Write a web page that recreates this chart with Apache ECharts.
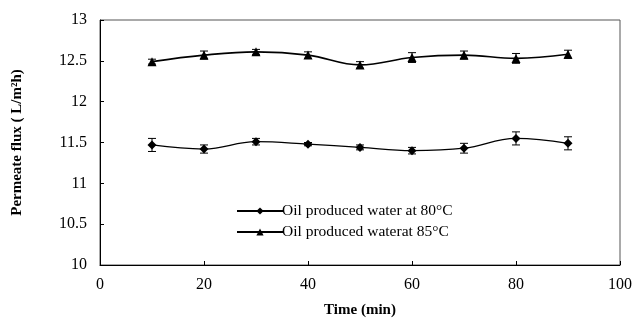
<!DOCTYPE html>
<html><head><meta charset="utf-8">
<script src="https://cdn.jsdelivr.net/npm/echarts@6/dist/echarts.min.js"></script>
<style>html,body{margin:0;padding:0;background:#fff}#c{width:638px;height:325px}</style>
</head><body><div id="c"></div>
<script>
var times = [10, 20, 30, 40, 50, 60, 70, 80, 90];
var flux80 = [11.47, 11.42, 11.51, 11.48, 11.44, 11.40, 11.43, 11.55, 11.49];
var err80 = [0.08, 0.05, 0.04, 0.02, 0.03, 0.04, 0.06, 0.08, 0.08];
var flux85 = [12.49, 12.57, 12.61, 12.57, 12.45, 12.54, 12.57, 12.53, 12.58];
var err85 = [0.03, 0.05, 0.03, 0.04, 0.04, 0.06, 0.05, 0.06, 0.05];
var name80 = 'Oil produced water at 80°C';
var name85 = 'Oil produced waterat 85°C';

function pairs(v){ return times.map(function(t,i){return [t, v[i]];}); }
function errData(v,e){ return times.map(function(t,i){return [t, v[i]-e[i], v[i]+e[i]];}); }
function errRender(params, api){
  var x = api.value(0), lo = api.value(1), hi = api.value(2);
  var p1 = api.coord([x, hi]), p2 = api.coord([x, lo]);
  var w = 4;
  var st = {stroke:'#000', lineWidth:1};
  return {type:'group', children:[
    {type:'line', shape:{x1:p1[0],y1:p1[1],x2:p2[0],y2:p2[1]}, style:st},
    {type:'line', shape:{x1:p1[0]-w,y1:p1[1],x2:p1[0]+w,y2:p1[1]}, style:st},
    {type:'line', shape:{x1:p2[0]-w,y1:p2[1],x2:p2[0]+w,y2:p2[1]}, style:st}
  ]};
}
var font = '"Liberation Serif","Times New Roman",serif';
var chart = echarts.init(document.getElementById('c'));
chart.setOption({
  animation:false,
  backgroundColor:'#fff',
  textStyle:{fontFamily:font},
  grid:{left:100, top:20, right:18, bottom:60, show:true, borderColor:'#555', borderWidth:1},
  legend:{
    left:231, top:198, orient:'vertical', itemGap:5, itemWidth:46, itemHeight:9,
    textStyle:{fontFamily:font, fontSize:15.5, color:'#000', padding:[0,0,0,-6]},
    data:[{name:name80},{name:name85}]
  },
  xAxis:{
    type:'value', min:0, max:100, interval:20,
    name:'Time (min)', nameLocation:'middle', nameGap:38,
    nameTextStyle:{fontFamily:font, fontSize:15, fontWeight:'bold', color:'#000'},
    axisLine:{lineStyle:{color:'#000'}},
    axisTick:{inside:true, length:4, lineStyle:{color:'#000'}},
    axisLabel:{fontFamily:font, fontSize:16, color:'#000', margin:12},
    splitLine:{show:false}
  },
  yAxis:{
    type:'value', min:10, max:13, interval:0.5,
    name:'Permeate flux ( L/m²h)', nameLocation:'middle', nameGap:75,
    nameTextStyle:{fontFamily:font, fontSize:15, fontWeight:'bold', color:'#000'},
    axisLine:{show:true, lineStyle:{color:'#000'}},
    axisTick:{show:true, inside:true, length:4, lineStyle:{color:'#000'}},
    axisLabel:{fontFamily:font, fontSize:16, color:'#000', margin:13},
    splitLine:{show:false}
  },
  series:[
    {name:name80, type:'line', smooth:0.4, data:pairs(flux80), symbol:'diamond', symbolSize:9,
     lineStyle:{color:'#000', width:1.3}, itemStyle:{color:'#000'}, z:3},
    {name:name85, type:'line', smooth:0.4, data:pairs(flux85), symbol:'triangle', symbolSize:9,
     lineStyle:{color:'#000', width:1.6}, itemStyle:{color:'#000'}, z:3},
    {type:'custom', renderItem:errRender, data:errData(flux80, err80), z:2, silent:true},
    {type:'custom', renderItem:errRender, data:errData(flux85, err85), z:2, silent:true}
  ]
});
</script></body></html>
